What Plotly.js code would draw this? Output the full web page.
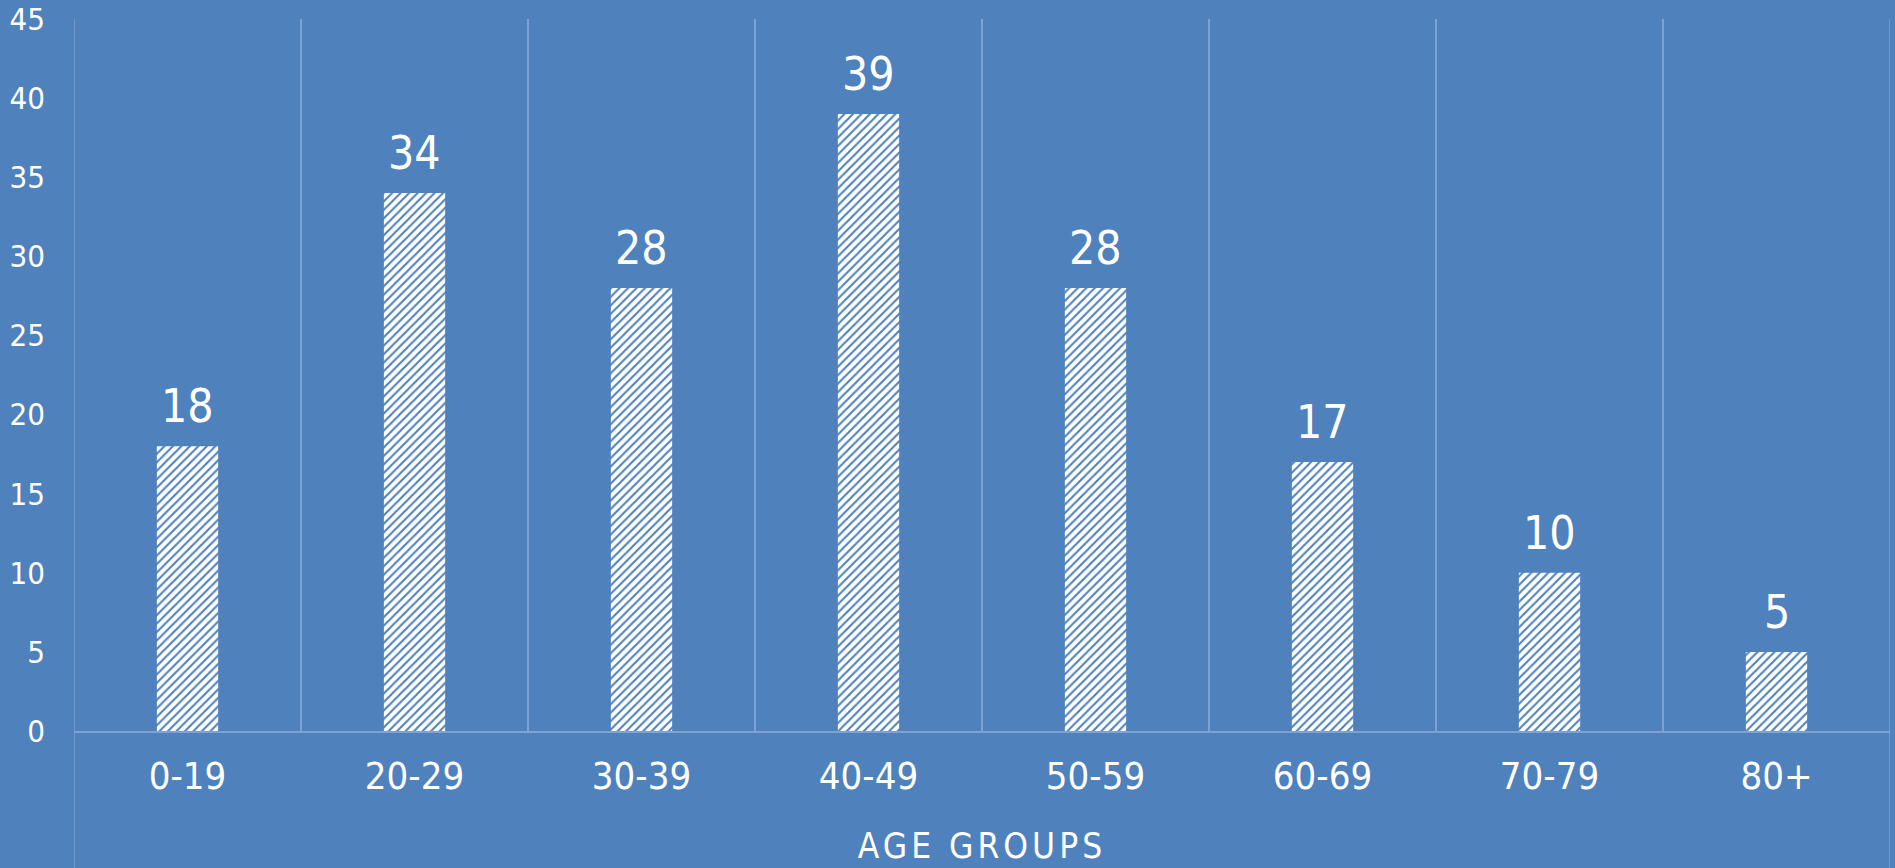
<!DOCTYPE html>
<html>
<head>
<meta charset="utf-8">
<script src="https://cdn.plot.ly/plotly-3.0.1.min.js"></script>
<style>
  html, body { margin: 0; padding: 0; background: #4f81bd; }
  #chart { width: 1895px; height: 868px; }
  .g-xtitle text { letter-spacing: 4px; }
</style>
</head>
<body>
<div id="chart"></div>
<script>
const categories = ["0-19", "20-29", "30-39", "40-49", "50-59", "60-69", "70-79", "80+"];
const values = [18, 34, 28, 39, 28, 17, 10, 5];
const yTicks = [0, 5, 10, 15, 20, 25, 30, 35, 40, 45];
const xTitle = "AGE GROUPS";

const FONT = '"Liberation Sans Narrow", "DejaVu Sans Condensed", "Arial Narrow", sans-serif';
const BG = '#4f81bd';
const GRID = '#7fa2d2';

const trace = {
  type: 'bar',
  x: categories,
  y: values,
  width: 0.27,
  marker: {
    color: '#ffffff',
    line: { width: 0 },
    pattern: { shape: '/', fgcolor: BG, bgcolor: '#ffffff', size: 6, solidity: 0.35 }
  },
  hoverinfo: 'x+y'
};

const annotations = categories.map((c, i) => ({
  x: c, y: values[i], xref: 'x', yref: 'y',
  text: String(values[i]), showarrow: false,
  yanchor: 'bottom', yshift: 11,
  font: { family: FONT, size: 46, color: '#ffffff' }
}));

const shapes = [-0.5, categories.length - 0.5].map(v => ({
  type: 'line', xref: 'x', yref: 'paper', x0: v, x1: v, y0: -0.3, y1: 1,
  line: { color: GRID, width: 1.5 }
}));

const layout = {
  width: 1895, height: 868,
  paper_bgcolor: BG, plot_bgcolor: BG,
  margin: { l: 74, r: 5, t: 19, b: 137 },
  showlegend: false,
  xaxis: {
    type: 'category',
    tickson: 'boundaries',
    showgrid: true, gridcolor: GRID, gridwidth: 1.5,
    showline: true, linecolor: GRID, linewidth: 1.5,
    ticks: '', ticklabelstandoff: 11,
    tickfont: { family: FONT, size: 38, color: '#ffffff' },
    automargin: false,
    title: { text: xTitle, font: { family: FONT, size: 35, color: '#ffffff' }, standoff: 36 },
    range: [-0.5, categories.length - 0.5]
  },
  yaxis: {
    range: [0, 45],
    tickvals: yTicks,
    showgrid: false, zeroline: false, showline: false,
    ticks: '', ticklabelstandoff: 28,
    tickfont: { family: FONT, size: 31, color: '#ffffff' },
    automargin: false
  },
  annotations: annotations,
  shapes: shapes
};

Plotly.newPlot('chart', [trace], layout, { displayModeBar: false, staticPlot: true });
</script>
</body>
</html>
